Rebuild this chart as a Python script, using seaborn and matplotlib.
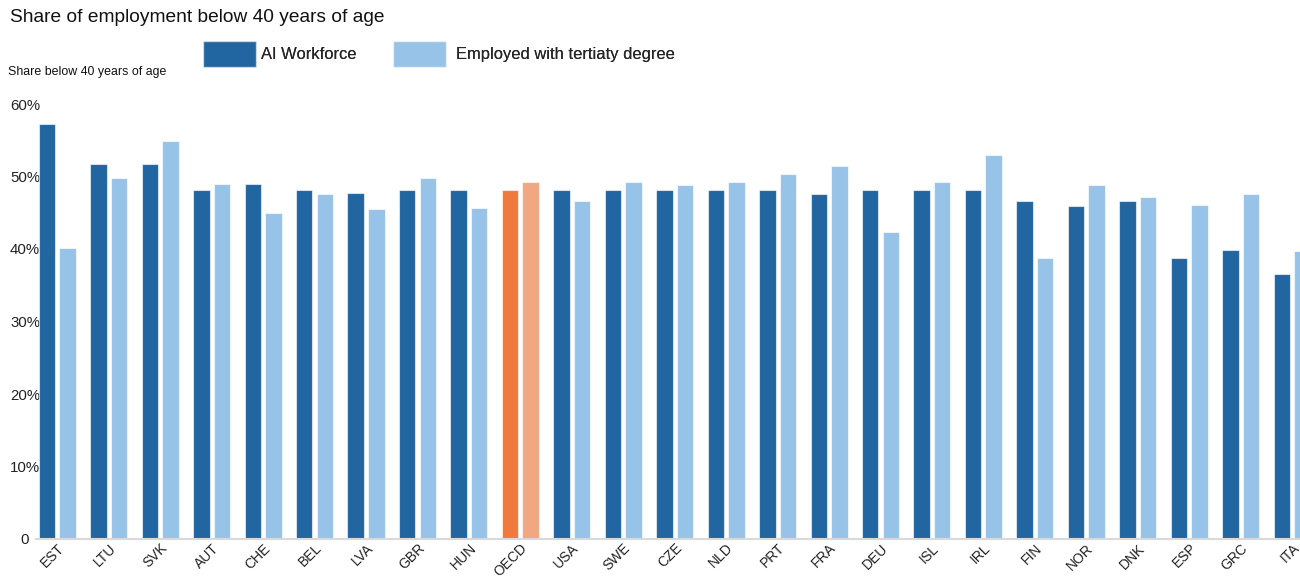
import matplotlib
matplotlib.use("Agg")
import matplotlib.pyplot as plt
from matplotlib.patches import Patch
import seaborn as sns
import pandas as pd

countries = ['EST', 'LTU', 'SVK', 'AUT', 'CHE', 'BEL', 'LVA', 'GBR', 'HUN', 'OECD',
             'USA', 'SWE', 'CZE', 'NLD', 'PRT', 'FRA', 'DEU', 'ISL', 'IRL', 'FIN',
             'NOR', 'DNK', 'ESP', 'GRC', 'ITA']
ai_workforce = [57.3, 51.7, 51.7, 48.2, 48.9, 48.2, 47.7, 48.2, 48.2, 48.2,
                48.2, 48.2, 48.2, 48.2, 48.2, 47.6, 48.2, 48.2, 48.2, 46.6,
                46.0, 46.6, 38.7, 39.8, 36.5]
tertiary = [40.1, 49.8, 54.9, 48.9, 45.0, 47.6, 45.5, 49.8, 45.6, 49.2,
            46.6, 49.2, 48.8, 49.2, 50.4, 51.4, 42.4, 49.2, 53.0, 38.7,
            48.8, 47.2, 46.1, 47.6, 39.7]
series = ['AI Workforce', 'Employed with tertiaty degree']
y_ticks = [0, 10, 20, 30, 40, 50, 60]
y_labels = ['0', '10%', '20%', '30%', '40%', '50%', '60%']

dark_blue = '#2166a1'
light_blue = '#98c3e8'
dark_orange = '#f07a3e'
light_orange = '#f2a783'

df = pd.DataFrame({
    'country': countries * 2,
    'series': [series[0]] * len(countries) + [series[1]] * len(countries),
    'value': ai_workforce + tertiary,
})

sns.set_style("white")
plt.rcParams['font.family'] = ['Liberation Sans', 'DejaVu Sans']

fig = plt.figure(figsize=(13, 5.82), dpi=100)
ax = fig.add_axes([36 / 1300, 43 / 582, 1264 / 1300, 435 / 582])

sns.barplot(data=df, x='country', y='value', hue='series', hue_order=series,
            palette=[dark_blue, light_blue], saturation=1, width=0.8, gap=0.2,
            edgecolor=(1, 1, 1, 0.6), linewidth=0.8, legend=False, ax=ax)

# OECD average in orange
oecd = countries.index('OECD')
ax.containers[0][oecd].set_facecolor(dark_orange)
ax.containers[1][oecd].set_facecolor(light_orange)

ax.set_ylim(0, 60)
ax.set_xlim(-0.414, 24.153)
ax.set_xlabel('')
ax.set_ylabel('')
ax.set_yticks(y_ticks, labels=y_labels)
for lbl in ax.get_yticklabels():
    lbl.set_horizontalalignment('center')
ax.tick_params(axis='y', length=0, pad=7.9, labelsize=10.8, colors='#222222')
ax.tick_params(axis='x', length=0, pad=1.5, labelsize=10, colors='#222222')
plt.setp(ax.get_xticklabels(), rotation=45, ha='right', rotation_mode='anchor')

for side in ['left', 'right', 'top']:
    ax.spines[side].set_visible(False)
ax.spines['bottom'].set_color('#d9d9d9')
ax.spines['bottom'].set_linewidth(1.5)

fig.text(10 / 1300, 1 - 18 / 582, 'Share of employment below 40 years of age',
         fontsize=13.8, va='center', ha='left', color='#111111')
fig.text(8 / 1300, 1 - 72 / 582, 'Share below 40 years of age',
         fontsize=8.9, va='center', ha='left', color='#111111')

# legend entries placed one by one, as in the reference
legend_pos = [(203, 0.3), (393, 0.6)]
for (x0, pad), name, col in zip(legend_pos, series, [dark_blue, light_blue]):
    leg = fig.legend([Patch(facecolor=col, edgecolor=(1, 1, 1, 0.6))], [name],
                     loc='center left', bbox_to_anchor=(x0 / 1300, 1 - 54 / 582),
                     frameon=False, fontsize=11.9, handlelength=3.2, handleheight=2.06,
                     handletextpad=pad, borderpad=0, borderaxespad=0)
    fig.add_artist(leg)

fig.savefig('out.png', dpi=100)
